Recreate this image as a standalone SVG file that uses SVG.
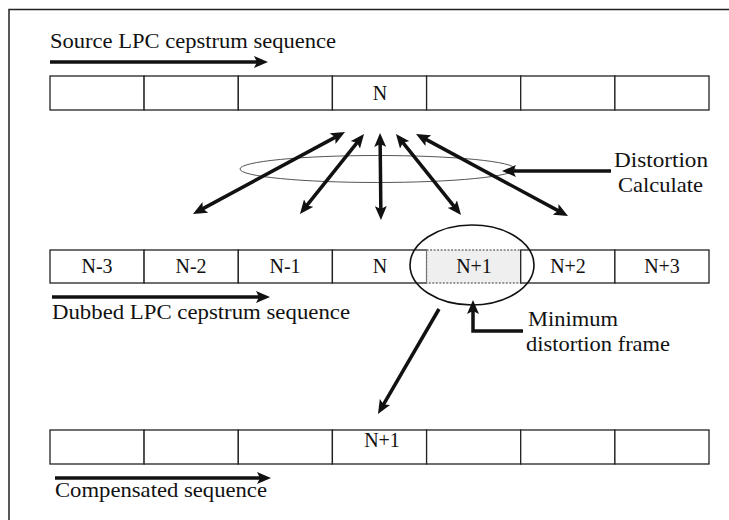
<svg xmlns="http://www.w3.org/2000/svg" width="729" height="520" viewBox="0 0 729 520">
<style>
  text { font-family: "Liberation Serif", "Times New Roman", serif; fill: #111; }
  .lbl { font-size: 21px; }
  .cell-t { font-size: 20px; text-anchor: middle; }
  .cell { fill: #fff; stroke: #222; stroke-width: 1.3; }
  .hi { fill: #efefef; stroke: #777; stroke-width: 1.3; stroke-dasharray: 2 1.5; }
  .arr { stroke: #111; stroke-width: 3.5; fill: none; }
</style>
<defs>
  <marker id="ah" viewBox="0 0 14 12" refX="9" refY="6" markerWidth="14" markerHeight="12" markerUnits="userSpaceOnUse" orient="auto-start-reverse">
    <path d="M0,0 L14,6 L0,12 L3,6 z" fill="#111"/>
  </marker>
</defs>
<rect x="0" y="0" width="729" height="520" fill="#fff"/>
<rect id="frame" x="9" y="9.5" width="740" height="540" fill="none" stroke="#222" stroke-width="1.5"/>

<g id="source-label">
  <text class="lbl" x="50" y="48" textLength="286" lengthAdjust="spacingAndGlyphs">Source LPC cepstrum sequence</text>
</g>
<g id="source-row">
  <g id="src-1"><rect class="cell" x="50" y="76" width="94.1" height="34"/></g>
  <g id="src-2"><rect class="cell" x="144.1" y="76" width="94.2" height="34"/></g>
  <g id="src-3"><rect class="cell" x="238.3" y="76" width="94.1" height="34"/></g>
  <g id="src-N"><rect class="cell" x="332.4" y="76" width="94.2" height="34"/><text class="cell-t" x="380" y="100">N</text></g>
  <g id="src-5"><rect class="cell" x="426.6" y="76" width="94.1" height="34"/></g>
  <g id="src-6"><rect class="cell" x="520.7" y="76" width="94.2" height="34"/></g>
  <g id="src-7"><rect class="cell" x="614.9" y="76" width="94.1" height="34"/></g>
</g>

<g id="distortion-calc">
  <ellipse cx="377.5" cy="169" rx="137.5" ry="13.5" fill="none" stroke="#555" stroke-width="1"/>
</g>
<g id="distortion-label">
  <text class="lbl" x="614" y="167" textLength="94" lengthAdjust="spacingAndGlyphs">Distortion</text>
  <text class="lbl" x="618" y="192" textLength="85" lengthAdjust="spacingAndGlyphs">Calculate</text>
</g>

<g id="dubbed-row">
  <g id="dub-N-3"><rect class="cell" x="50" y="250" width="94.1" height="33"/><text class="cell-t" x="97" y="273">N-3</text></g>
  <g id="dub-N-2"><rect class="cell" x="144.1" y="250" width="94.2" height="33"/><text class="cell-t" x="191" y="273">N-2</text></g>
  <g id="dub-N-1"><rect class="cell" x="238.3" y="250" width="94.1" height="33"/><text class="cell-t" x="285" y="273">N-1</text></g>
  <g id="dub-N"><rect class="cell" x="332.4" y="250" width="94.2" height="33"/><text class="cell-t" x="380" y="273">N</text></g>
  <g id="dub-N+1"><rect class="hi" x="426.6" y="250" width="94.1" height="33"/><text class="cell-t" x="474" y="273">N+1</text></g>
  <g id="dub-N+2"><rect class="cell" x="520.7" y="250" width="94.2" height="33"/><text class="cell-t" x="568" y="273">N+2</text></g>
  <g id="dub-N+3"><rect class="cell" x="614.9" y="250" width="94.1" height="33"/><text class="cell-t" x="662" y="273">N+3</text></g>
</g>
<g id="min-ellipse">
  <ellipse cx="472" cy="265" rx="62" ry="40" fill="none" stroke="#111" stroke-width="1.6"/>
</g>
<g id="dubbed-label">
  <text class="lbl" x="52" y="319" textLength="298" lengthAdjust="spacingAndGlyphs">Dubbed LPC cepstrum sequence</text>
</g>
<g id="min-label">
  <text class="lbl" x="528" y="326" textLength="90" lengthAdjust="spacingAndGlyphs">Minimum</text>
  <text class="lbl" x="526" y="351" textLength="144" lengthAdjust="spacingAndGlyphs">distortion frame</text>
</g>

<g id="comp-row">
  <g id="cmp-1"><rect class="cell" x="50" y="430" width="94.1" height="34"/></g>
  <g id="cmp-2"><rect class="cell" x="144.1" y="430" width="94.2" height="34"/></g>
  <g id="cmp-3"><rect class="cell" x="238.3" y="430" width="94.1" height="34"/></g>
  <g id="cmp-N+1"><rect class="cell" x="332.4" y="430" width="94.2" height="34"/><text class="cell-t" x="382" y="447">N+1</text></g>
  <g id="cmp-5"><rect class="cell" x="426.6" y="430" width="94.1" height="34"/></g>
  <g id="cmp-6"><rect class="cell" x="520.7" y="430" width="94.2" height="34"/></g>
  <g id="cmp-7"><rect class="cell" x="614.9" y="430" width="94.1" height="34"/></g>
</g>
<g id="comp-label">
  <text class="lbl" x="55" y="497" textLength="212" lengthAdjust="spacingAndGlyphs">Compensated sequence</text>
</g>

<g id="connectors">
  <line class="arr" x1="50" y1="62" x2="263" y2="62" marker-end="url(#ah)"/>
  <line class="arr" x1="52" y1="297" x2="265" y2="297" marker-end="url(#ah)"/>
  <line class="arr" x1="55" y1="478" x2="266" y2="478" marker-end="url(#ah)"/>

  <line class="arr" x1="340.6" y1="134.4" x2="197.4" y2="211.6" marker-start="url(#ah)" marker-end="url(#ah)"/>
  <line class="arr" x1="360.9" y1="137.9" x2="303.1" y2="210.1" marker-start="url(#ah)" marker-end="url(#ah)"/>
  <line class="arr" x1="380.1" y1="138" x2="380.9" y2="215" marker-start="url(#ah)" marker-end="url(#ah)"/>
  <line class="arr" x1="399.1" y1="137.9" x2="457.9" y2="211.1" marker-start="url(#ah)" marker-end="url(#ah)"/>
  <line class="arr" x1="420.4" y1="136.4" x2="563.6" y2="213.6" marker-start="url(#ah)" marker-end="url(#ah)"/>

  <line class="arr" x1="611" y1="171" x2="507" y2="171" marker-end="url(#ah)"/>
  <path class="arr" d="M523,331 H473 V305" marker-end="url(#ah)"/>
  <line class="arr" x1="439" y1="309" x2="380.5" y2="409.7" marker-end="url(#ah)"/>
</g>
</svg>
